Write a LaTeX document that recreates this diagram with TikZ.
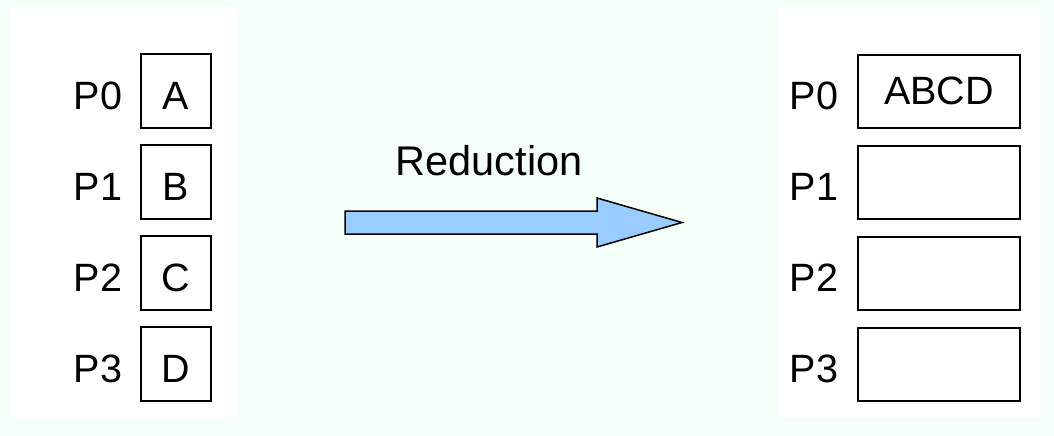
\documentclass[tikz,border=0pt]{standalone}
\usepackage{fontspec}
\setmainfont{Liberation Sans}
\definecolor{mint}{HTML}{F4FFF8}
\definecolor{arrowblue}{HTML}{99CCFF}
\begin{document}
\begin{tikzpicture}[x=1pt,y=-1pt,
  lbl/.style={font=\fontsize{39.5pt}{40pt}\selectfont, inner sep=0pt, anchor=base},
  cell/.style={draw=black, line width=2pt, inner sep=0pt, fill=white,
    font=\fontsize{39.5pt}{40pt}\selectfont, text height=36pt, text depth=0pt,
    minimum width=70pt, minimum height=74pt},
  widecell/.style={cell, minimum width=162pt, minimum height=73pt},
  panel/.style={fill=white, draw=none}]
  % canvas and the two white panels
  \fill[mint] (0,0) rectangle (1054,436);
  \useasboundingbox (0,0) rectangle (1054,436);
  \fill[white] (10,7) rectangle (238,419);
  \fill[white] (778,7) rectangle (1042,417);

  % left column: one value per process
  \foreach \i/\v in {0/A,1/B,2/C,3/D}{
    \node[lbl] (lp\i) at (98,109+91*\i) {P\i};
    \node[cell] (lv\i) at (176,91+91*\i) {\v};
  }

  % right column: combined result on P0
  \node[lbl] (rp0) at (814,109) {P0};
  \node[widecell, text height=25pt] (rv0) at (939,91.5) {ABCD};
  \foreach \i in {1,2,3}{
    \node[lbl] (rp\i) at (814,109+91*\i) {P\i};
    \node[widecell] (rv\i) at (939,91.5+91*\i) {};
  }

  % reduction arrow with its caption
  \node[lbl, font=\fontsize{41.5pt}{42pt}\selectfont] (cap) at (489,175) {Reduction};
  \coordinate (tail) at (345,222.5);
  \coordinate (tip) at (682,222.5);
  \draw[fill=arrowblue, line width=1.5pt, line join=miter]
    (345,211) -- (597,211) -- (597,198) -- (tip) -- (597,247) -- (597,234)
    -- (345,234) -- cycle;
\end{tikzpicture}
\end{document}
